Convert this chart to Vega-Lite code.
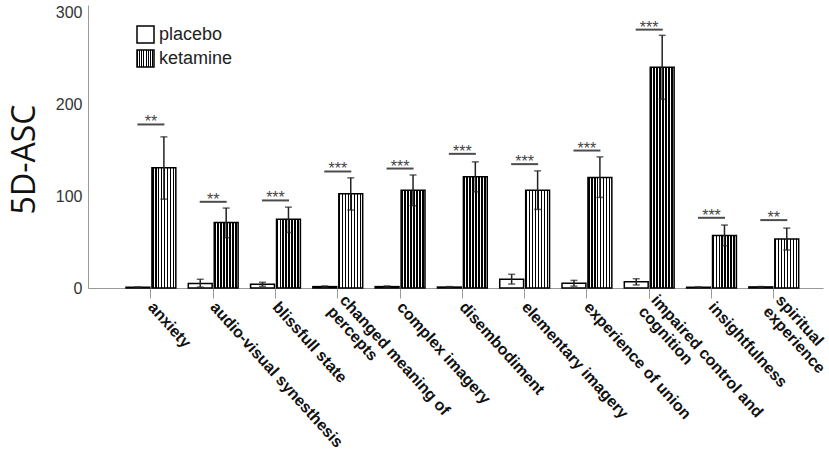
{
  "$schema": "https://vega.github.io/schema/vega-lite/v6.json",
  "width": 735,
  "height": 283,
  "autosize": {"type": "none"},
  "padding": {"left": 88, "top": 5, "right": 6, "bottom": 169},
  "background": "white",
  "config": {"view": {"stroke": null}, "font": "Liberation Sans"},
  "datasets": {
    "bars": [
      {"item": "anxiety", "group": "placebo", "mean": 0.8, "lo": 0.5, "hi": 1.1},
      {"item": "anxiety", "group": "ketamine", "mean": 130.8, "lo": 96.7, "hi": 164.5},
      {"item": "audio-visual synesthesis", "group": "placebo", "mean": 5, "lo": 1, "hi": 9.5},
      {"item": "audio-visual synesthesis", "group": "ketamine", "mean": 71.4, "lo": 54.7, "hi": 87},
      {"item": "blissfull state", "group": "placebo", "mean": 4, "lo": 1.8, "hi": 6.2},
      {"item": "blissfull state", "group": "ketamine", "mean": 74.7, "lo": 60.5, "hi": 88},
      {"item": "changed meaning of percepts", "group": "placebo", "mean": 1.5, "lo": 0.8, "hi": 2.2},
      {"item": "changed meaning of percepts", "group": "ketamine", "mean": 102.5, "lo": 84.8, "hi": 119.9},
      {"item": "complex imagery", "group": "placebo", "mean": 1.5, "lo": 0.8, "hi": 2.2},
      {"item": "complex imagery", "group": "ketamine", "mean": 106.5, "lo": 89.5, "hi": 123},
      {"item": "disembodiment", "group": "placebo", "mean": 1, "lo": 0.5, "hi": 1.5},
      {"item": "disembodiment", "group": "ketamine", "mean": 121, "lo": 104.7, "hi": 137.3},
      {"item": "elementary imagery", "group": "placebo", "mean": 9.5, "lo": 4.3, "hi": 14.9},
      {"item": "elementary imagery", "group": "ketamine", "mean": 106.5, "lo": 85.5, "hi": 127.5},
      {"item": "experience of union", "group": "placebo", "mean": 5.1, "lo": 2, "hi": 8.3},
      {"item": "experience of union", "group": "ketamine", "mean": 120.3, "lo": 98.6, "hi": 142.7},
      {"item": "impaired control and cognition", "group": "placebo", "mean": 6.9, "lo": 3.3, "hi": 10.1},
      {"item": "impaired control and cognition", "group": "ketamine", "mean": 240.2, "lo": 205.4, "hi": 275},
      {"item": "insightfulness", "group": "placebo", "mean": 0.8, "lo": 0.5, "hi": 1.1},
      {"item": "insightfulness", "group": "ketamine", "mean": 57.2, "lo": 46, "hi": 68.5},
      {"item": "spiritual experience", "group": "placebo", "mean": 1.2, "lo": 0.8, "hi": 1.6},
      {"item": "spiritual experience", "group": "ketamine", "mean": 53.3, "lo": 41.3, "hi": 65.2}
    ],
    "sig": [
      {"item": "anxiety", "sig": 178, "stars": "**"},
      {"item": "audio-visual synesthesis", "sig": 93.8, "stars": "**"},
      {"item": "blissfull state", "sig": 95.3, "stars": "***"},
      {"item": "changed meaning of percepts", "sig": 126.8, "stars": "***"},
      {"item": "complex imagery", "sig": 130, "stars": "***"},
      {"item": "disembodiment", "sig": 146, "stars": "***"},
      {"item": "elementary imagery", "sig": 134.8, "stars": "***"},
      {"item": "experience of union", "sig": 149.6, "stars": "***"},
      {"item": "impaired control and cognition", "sig": 281.2, "stars": "***"},
      {"item": "insightfulness", "sig": 76.4, "stars": "***"},
      {"item": "spiritual experience", "sig": 73.9, "stars": "**"}
    ]
  },
  "resolve": {"scale": {"stroke": "independent"}, "legend": {"stroke": "independent"}},
  "layer": [
    {
      "data": {"name": "bars"},
      "transform": [{"filter": "datum.group === 'placebo'"}],
      "mark": {"type": "bar", "fill": "#ffffff", "strokeWidth": 1.5},
      "encoding": {
        "x": {
          "field": "item", "type": "nominal",
          "scale": {"domain": ["anxiety", "audio-visual synesthesis", "blissfull state", "changed meaning of percepts", "complex imagery", "disembodiment", "elementary imagery", "experience of union", "impaired control and cognition", "insightfulness", "spiritual experience"], "paddingInner": 0.2, "paddingOuter": 0.5, "align": 0.61},
          "axis": {
            "title": null, "domainColor": "#999", "domainWidth": 1, "tickColor": "#999", "tickSize": 10, "tickWidth": 1,
            "labelAngle": 48, "labelAlign": "left", "labelBaseline": "middle",
            "labelPadding": {"condition": {"test": "datum.value === 'changed meaning of percepts' || datum.value === 'impaired control and cognition' || datum.value === 'spiritual experience'", "value": -1}, "value": 6},
            "labelOffset": {"condition": {"test": "datum.value === 'changed meaning of percepts' || datum.value === 'impaired control and cognition' || datum.value === 'spiritual experience'", "value": 5}, "value": 0},
            "labelFont": "Liberation Sans", "labelFontSize": 16, "labelFontWeight": "bold", "labelColor": "#111",
            "labelOverlap": false, "labelBound": false, "labelLimit": 400, "labelLineHeight": 17,
            "labelExpr": "datum.value == 'changed meaning of percepts' ? ['changed meaning of', 'percepts'] : datum.value == 'impaired control and cognition' ? ['impaired control and', 'cognition'] : datum.value == 'spiritual experience' ? ['spiritual', 'experience'] : datum.label"
          }
        },
        "xOffset": {"field": "group", "type": "nominal", "scale": {"domain": ["placebo", "ketamine"], "paddingInner": 0.08, "paddingOuter": 0}},
        "y": {
          "field": "mean", "type": "quantitative",
          "scale": {"domain": [0, 308], "nice": false},
          "axis": {
            "title": "5D-ASC", "titleFont": "Open Sans", "titleFontSize": 32, "titleFontWeight": "normal", "titleColor": "#111",
            "titleAngle": -90, "titleX": -64, "titleY": 154, "titleAlign": "center", "titleBaseline": "middle",
            "values": [0, 100, 200, 300], "ticks": false, "tickSize": 0, "grid": false, "domainColor": "#999",
            "labelFont": "Liberation Sans", "labelFontSize": 16, "labelColor": "#333", "labelPadding": 6
          }
        },
        "stroke": {
          "field": "group", "type": "nominal",
          "scale": {"domain": ["placebo"], "range": ["#000000"]},
          "legend": {
            "orient": "none", "legendX": 48, "legendY": 20, "title": null,
            "symbolType": "square", "symbolSize": 289, "symbolStrokeWidth": 1.5,
            "labelFont": "Liberation Sans", "labelFontSize": 18, "labelColor": "#222", "labelOffset": 4
          }
        }
      }
    },
    {
      "data": {"name": "bars"},
      "transform": [{"filter": "datum.group === 'ketamine'"}],
      "mark": {"type": "bar", "strokeWidth": 1.5, "fill": {"gradient": "linear", "x1": 0, "y1": 0, "x2": 1, "y2": 0, "stops": [
{"offset":0,"color":"#000"},{"offset":0.066,"color":"#000"},{"offset":0.066,"color":"#fff"},{"offset":0.125,"color":"#fff"},
{"offset":0.125,"color":"#000"},{"offset":0.191,"color":"#000"},{"offset":0.191,"color":"#fff"},{"offset":0.25,"color":"#fff"},
{"offset":0.25,"color":"#000"},{"offset":0.316,"color":"#000"},{"offset":0.316,"color":"#fff"},{"offset":0.375,"color":"#fff"},
{"offset":0.375,"color":"#000"},{"offset":0.441,"color":"#000"},{"offset":0.441,"color":"#fff"},{"offset":0.5,"color":"#fff"},
{"offset":0.5,"color":"#000"},{"offset":0.566,"color":"#000"},{"offset":0.566,"color":"#fff"},{"offset":0.625,"color":"#fff"},
{"offset":0.625,"color":"#000"},{"offset":0.691,"color":"#000"},{"offset":0.691,"color":"#fff"},{"offset":0.75,"color":"#fff"},
{"offset":0.75,"color":"#000"},{"offset":0.816,"color":"#000"},{"offset":0.816,"color":"#fff"},{"offset":0.875,"color":"#fff"},
{"offset":0.875,"color":"#000"},{"offset":0.941,"color":"#000"},{"offset":0.941,"color":"#fff"},{"offset":1,"color":"#fff"}
      ]}},
      "encoding": {
        "x": {"field": "item", "type": "nominal"},
        "xOffset": {"field": "group", "type": "nominal"},
        "y": {"field": "mean", "type": "quantitative"},
        "stroke": {
          "field": "group", "type": "nominal",
          "scale": {"domain": ["ketamine"], "range": ["#000000"]},
          "legend": {
            "orient": "none", "legendX": 48, "legendY": 44, "title": null,
            "symbolType": "square", "symbolSize": 289, "symbolStrokeWidth": 1.5,
            "labelFont": "Liberation Sans", "labelFontSize": 18, "labelColor": "#222", "labelOffset": 4
          }
        }
      }
    },
    {
      "data": {"name": "bars"},
      "mark": {"type": "rule", "color": "#222", "strokeWidth": 1.5},
      "encoding": {
        "x": {"field": "item", "type": "nominal"},
        "xOffset": {"field": "group", "type": "nominal"},
        "y": {"field": "lo", "type": "quantitative"},
        "y2": {"field": "hi"}
      }
    },
    {
      "data": {"name": "bars"},
      "mark": {"type": "tick", "color": "#222", "size": 7, "thickness": 1.5},
      "encoding": {
        "x": {"field": "item", "type": "nominal"},
        "xOffset": {"field": "group", "type": "nominal"},
        "y": {"field": "hi", "type": "quantitative"}
      }
    },
    {
      "data": {"name": "bars"},
      "mark": {"type": "tick", "color": "#222", "size": 7, "thickness": 1.5},
      "encoding": {
        "x": {"field": "item", "type": "nominal"},
        "xOffset": {"field": "group", "type": "nominal"},
        "y": {"field": "lo", "type": "quantitative"}
      }
    },
    {
      "data": {"name": "sig"},
      "mark": {"type": "tick", "color": "#000", "size": 27, "thickness": 2},
      "encoding": {
        "x": {"field": "item", "type": "nominal"},
        "y": {"field": "sig", "type": "quantitative"}
      }
    },
    {
      "data": {"name": "sig"},
      "mark": {"type": "text", "color": "#444", "fontSize": 16, "baseline": "alphabetic", "align": "center", "dy": 3, "font": "Liberation Sans"},
      "encoding": {
        "x": {"field": "item", "type": "nominal"},
        "y": {"field": "sig", "type": "quantitative"},
        "text": {"field": "stars"}
      }
    }
  ]
}
